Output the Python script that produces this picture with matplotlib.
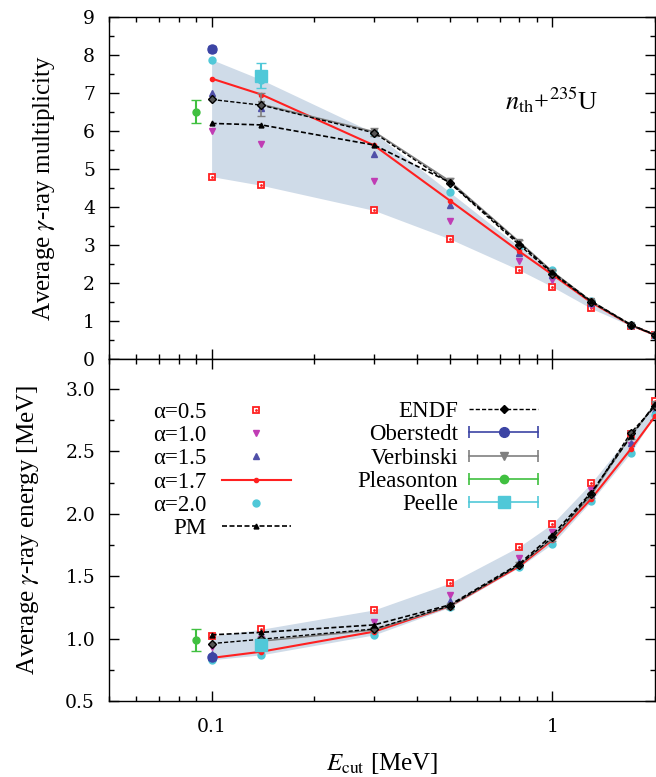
import numpy as np
import matplotlib
matplotlib.use('Agg')
from matplotlib import pyplot as plt
from matplotlib.lines import Line2D
from matplotlib.legend_handler import HandlerTuple, HandlerLine2D
from matplotlib.ticker import FixedLocator, NullFormatter, MultipleLocator, LogLocator

plt.rcParams['font.family'] = 'serif'
plt.rcParams['font.serif'] = ['Liberation Serif', 'DejaVu Serif']
plt.rcParams['mathtext.fontset'] = 'stix'

# cut-off energies [MeV]
ecut = [0.1, 0.14, 0.3, 0.5, 0.8, 1.0, 1.3, 1.7, 2.0]

# average gamma multiplicity
mult_a05 = [4.8, 4.57, 3.91, 3.16, 2.34, 1.90, 1.33, 0.87, 0.62]
mult_a10 = [6.0, 5.65, 4.69, 3.62, 2.57, 2.09, 1.42, 0.88, 0.63]
mult_a15 = [7.0, 6.6, 5.40, 4.04, 2.79, 2.20, 1.48, 0.89, 0.63]
mult_a17 = [7.38, 6.96, 5.62, 4.17, 2.83, 2.22, 1.49, 0.89, 0.63]
mult_a20 = [7.88, 7.35, 5.95, 4.39, 2.95, 2.33, 1.52, 0.90, 0.64]
mult_pm = [6.2, 6.16, 5.63, 4.65, 3.05, 2.28, 1.52, 0.90, 0.64]
mult_endf = [6.83, 6.68, 5.95, 4.63, 3.0, 2.25, 1.50, 0.89, 0.63]
mult_verb = [6.7, 5.98, 4.68, 3.08, 2.30, 1.52, 0.90, 0.63]
mult_verb_err = [0.3, 0.1, 0.08, 0.06, 0.05, 0.04, 0.03, 0.03]

# average gamma energy [MeV]
en_a05 = [1.02, 1.075, 1.23, 1.444, 1.737, 1.92, 2.246, 2.64, 2.90]
en_a10 = [0.93, 1.0, 1.136, 1.35, 1.644, 1.85, 2.19, 2.55, 2.85]
en_a15 = [0.88, 0.95, 1.09, 1.30, 1.61, 1.82, 2.16, 2.57, 2.83]
en_a17 = [0.845, 0.895, 1.056, 1.26, 1.58, 1.79, 2.12, 2.52, 2.78]
en_a20 = [0.83, 0.87, 1.03, 1.25, 1.572, 1.76, 2.10, 2.49, 2.79]
en_pm = [1.03, 1.05, 1.11, 1.27, 1.60, 1.83, 2.17, 2.62, 2.88]
en_endf = [0.96, 0.995, 1.077, 1.262, 1.59, 1.81, 2.16, 2.65, 2.86]
en_verb = [0.98, 1.07, 1.26, 1.59, 1.80, 2.15, 2.63, 2.87]
en_verb_err = [0.03, 0.02, 0.02, 0.02, 0.02, 0.02, 0.03, 0.03]

# experiments: (E_cut, multiplicity, err, energy, err)
oberstedt = (0.1, 8.17, 0.08, 0.85, 0.02)
pleasonton = (0.09, 6.51, 0.3, 0.99, 0.09)
peelle = (0.14, 7.45, 0.33, 0.95, 0.04)

c_red = '#ff2020'
c_mag = '#c03cb4'
c_blu = '#5050a8'
c_cya = '#50c8d8'
c_obe = '#3c44a4'
c_gre = '#40c040'
c_gry = '#808080'
c_band = '#cfdbe8'

fig = plt.figure(figsize=(6.56, 7.77), dpi=100)
W, H = 656.0, 777.0
ax1 = fig.add_axes([109 / W, 1 - 359 / H, 546 / W, 342 / H])
ax2 = fig.add_axes([109 / W, 1 - 701 / H, 546 / W, 342 / H])

x_verb = ecut[1:]


def draw(ax, a05, a10, a15, a17, a20, pm, endf, verb, verb_err, col):
    ax.fill_between(ecut, a05, a20, color=c_band, lw=0, zorder=1)
    ax.plot(ecut, a05, ls='none', marker='s', mfc='white', mec=c_red, ms=5, mew=1.3, zorder=3)
    ax.plot(ecut, a05, ls='none', marker='.', color=c_red, ms=2, zorder=3)
    ax.plot(ecut, a10, ls='none', marker='v', color=c_mag, ms=5, zorder=3)
    ax.plot(ecut, a15, ls='none', marker='^', color=c_blu, ms=5, zorder=3)
    ax.plot(ecut, a20, ls='none', marker='o', color=c_cya, ms=5, zorder=3)
    ax.plot(ecut, a17, ls='-', color=c_red, lw=1.5, marker='o', ms=3, zorder=4)
    ax.errorbar(x_verb, verb, yerr=verb_err, color=c_gry, marker='v', ms=5, lw=1.2,
                capsize=3, zorder=4)
    ax.plot(ecut, endf, ls=(0, (3, 1.5)), color='black', lw=1.0, marker='D', ms=4,
            mfc='#555555', mec='black', zorder=5)
    ax.plot(ecut, pm, ls=(0, (3, 1.5)), color='black', lw=1.2, marker='^', ms=3.5, zorder=5)
    ax.errorbar([oberstedt[0]], [oberstedt[col]], yerr=[oberstedt[col + 1]], color=c_obe,
                marker='o', ms=6.5, capsize=3, zorder=6)
    ax.errorbar([pleasonton[0]], [pleasonton[col]], yerr=[pleasonton[col + 1]], color=c_gre,
                marker='o', ms=5, capsize=3.5, zorder=6)
    ax.errorbar([peelle[0]], [peelle[col]], yerr=[peelle[col + 1]], color=c_cya,
                marker='s', ms=8.5, capsize=3.5, zorder=6)


draw(ax1, mult_a05, mult_a10, mult_a15, mult_a17, mult_a20, mult_pm, mult_endf,
     mult_verb, mult_verb_err, 1)
draw(ax2, en_a05, en_a10, en_a15, en_a17, en_a20, en_pm, en_endf,
     en_verb, en_verb_err, 3)

for ax in (ax1, ax2):
    ax.set_xscale('log')
    ax.set_xlim(0.05, 2.0)
    ax.xaxis.set_major_locator(FixedLocator([0.1, 1.0]))
    ax.xaxis.set_minor_locator(LogLocator(base=10, subs=np.arange(2, 10)))
    ax.xaxis.set_minor_formatter(NullFormatter())
    ax.tick_params(which='both', direction='in', top=True, right=True, width=1.0,
                   labelsize=13.5, labelfontfamily='DejaVu Serif')
    ax.tick_params(which='major', length=7)
    ax.tick_params(which='minor', length=3.5)
    ax.tick_params(axis='y', pad=10)
    ax.tick_params(axis='x', pad=12)
    for s in ax.spines.values():
        s.set_linewidth(1.0)

ax1.set_ylim(0, 9)
ax1.yaxis.set_major_locator(MultipleLocator(1))
ax1.yaxis.set_minor_locator(MultipleLocator(0.5))
ax1.set_xticklabels([])
ax1.set_ylabel(r'Average $\gamma$-ray multiplicity', fontsize=18)
ax1.yaxis.set_label_coords(-0.095, 0.5)
ax1.text(0.81, 0.757, r'$n_{\rm th}$+$^{235}$U', transform=ax1.transAxes,
         fontsize=19, ha='center', va='center')

ax2.set_ylim(0.5, 3.24)
ax2.yaxis.set_major_locator(FixedLocator([0.5, 1.0, 1.5, 2.0, 2.5, 3.0]))
ax2.yaxis.set_minor_locator(MultipleLocator(0.25))
ax2.set_yticklabels(['0.5', '1.0', '1.5', '2.0', '2.5', '3.0'])
ax2.set_xticklabels(['0.1', '1'])
ax2.set_ylabel(r'Average $\gamma$-ray energy [MeV]', fontsize=18)
ax2.yaxis.set_label_coords(-0.125, 0.5)
ax2.set_xlabel(r'$E_{\rm cut}$ [MeV]', fontsize=18, labelpad=11)

# legends
h05 = (Line2D([], [], ls='none', marker='s', mfc='white', mec=c_red, ms=5, mew=1.3),
       Line2D([], [], ls='none', marker='.', color=c_red, ms=2))
h10 = Line2D([], [], ls='none', marker='v', color=c_mag, ms=5)
h15 = Line2D([], [], ls='none', marker='^', color=c_blu, ms=5)
h17 = Line2D([], [], ls='-', color=c_red, lw=1.5, marker='o', ms=3)
h20 = Line2D([], [], ls='none', marker='o', color=c_cya, ms=5)
hpm = Line2D([], [], ls=(0, (3, 1.5)), color='black', lw=1.2, marker='^', ms=3.5)

leg1 = ax2.legend([h05, h10, h15, h17, h20, hpm],
                  ['α=0.5', 'α=1.0', 'α=1.5', 'α=1.7', 'α=2.0', 'PM'],
                  loc='upper right', bbox_to_anchor=(0.333, 0.875), frameon=False,
                  markerfirst=False, fontsize=16.5, handlelength=3.0, handletextpad=0.7,
                  labelspacing=0.1, borderpad=0, borderaxespad=0,
                  handler_map={tuple: HandlerTuple(ndivide=1, pad=0)})
for col in leg1._legend_box.get_children()[1].get_children():
    col.align = 'right'
ax2.add_artist(leg1)

caps_map = {}


def err_handle(color, marker, ms):
    caps = Line2D([], [], ls='-', color=color, lw=1.2, marker='|', ms=8, mew=1.2)
    caps_map[caps] = HandlerLine2D(numpoints=2, marker_pad=0)
    mid = Line2D([], [], ls='none', color=color, marker=marker, ms=ms)
    return (caps, mid)


hendf = Line2D([], [], ls=(0, (3, 1.5)), color='black', lw=1.0, marker='D', ms=4)
hobe = err_handle(c_obe, 'o', 7)
hver = err_handle(c_gry, 'v', 6)
hple = err_handle(c_gre, 'o', 6)
hpee = err_handle(c_cya, 's', 8.5)
hmap = {tuple: HandlerTuple(ndivide=1, pad=0)}
hmap.update(caps_map)
leg2 = ax2.legend([hendf, hobe, hver, hple, hpee],
                  ['ENDF', 'Oberstedt', 'Verbinski', 'Pleasonton', 'Peelle'],
                  loc='upper right', bbox_to_anchor=(0.786, 0.877), frameon=False,
                  markerfirst=False, fontsize=16.5, handlelength=3.0, handletextpad=0.5,
                  labelspacing=0.1, borderpad=0, borderaxespad=0, handler_map=hmap)
for col in leg2._legend_box.get_children()[1].get_children():
    col.align = 'right'

fig.savefig('out.png', dpi=100)
